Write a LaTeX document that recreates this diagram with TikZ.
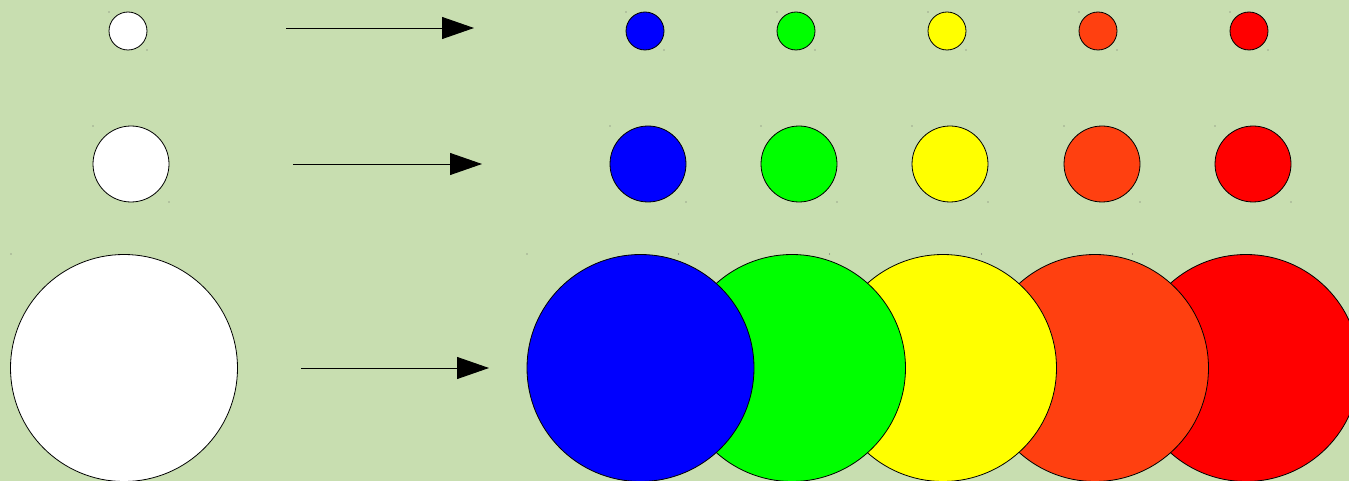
\documentclass[tikz,border=0pt]{standalone}
\usetikzlibrary{arrows.meta}
\definecolor{bg}{RGB}{200,222,176}
\definecolor{corange}{RGB}{255,64,16}
\definecolor{cyellow}{RGB}{255,255,0}
\definecolor{cgreen}{RGB}{0,255,0}
\definecolor{cblue}{RGB}{0,0,255}
\definecolor{cred}{RGB}{255,0,0}
\begin{document}
\begin{tikzpicture}[x=0.75pt,y=-0.75pt,
  ball/.style={circle,draw=black,line width=0.6pt,inner sep=0pt,minimum size=#1*0.75pt},
  arr/.style={draw=black,line width=0.7pt,-{Triangle[length=24pt,width=16.5pt,fill=black]}},
  speck/.style={fill=black!60,circle,inner sep=0pt,minimum size=0.9pt}]
\fill[bg] (0,0) rectangle (1349,481);
\useasboundingbox (0,0) rectangle (1349,481);
% Row 1
\node[ball=38,fill=white] (w1) at (128,31) {};
\foreach \c/\x/\n in {cred/1249/e, corange/1098/d, cyellow/947/c, cgreen/796/b, cblue/645/a}{
  \node[ball=38,fill=\c] (\n1) at (\x,31) {};
  \node[speck] (\n1s) at (\x-19,12) {};
  \node[speck] (\n1t) at (\x+19,50) {};
}
\node[speck] (w1s) at (109,12) {};
\node[speck] (w1t) at (147,50) {};
\coordinate (p1) at (286,28);
\coordinate (q1) at (474,28);
\draw[arr] (p1) -- (q1);
% Row 2
\node[ball=76,fill=white] (w2) at (131,164) {};
\foreach \c/\x/\n in {cred/1253/e, corange/1102/d, cyellow/950/c, cgreen/799/b, cblue/648/a}{
  \node[ball=76,fill=\c] (\n2) at (\x,164) {};
  \node[speck] (\n2s) at (\x-38,126) {};
  \node[speck] (\n2t) at (\x+38,202) {};
}
\node[speck] (w2s) at (93,126) {};
\node[speck] (w2t) at (169,202) {};
\coordinate (p2) at (293,164);
\coordinate (q2) at (482,164);
\draw[arr] (p2) -- (q2);
% Row 3
\node[speck] (w3s) at (11,254) {};
\node[ball=227,fill=white] (w3) at (124,368) {};
\foreach \c/\x/\n in {cred/1246/e, corange/1095/d, cyellow/943/c, cgreen/792/b, cblue/640.5/a}{
  \node[speck] (\n3s) at (\x-113.5,254) {};
  \node[ball=227,fill=\c] (\n3) at (\x,368) {};
}
\coordinate (p3) at (301,368);
\coordinate (q3) at (489,368);
\draw[arr] (p3) -- (q3);
\end{tikzpicture}
\end{document}
